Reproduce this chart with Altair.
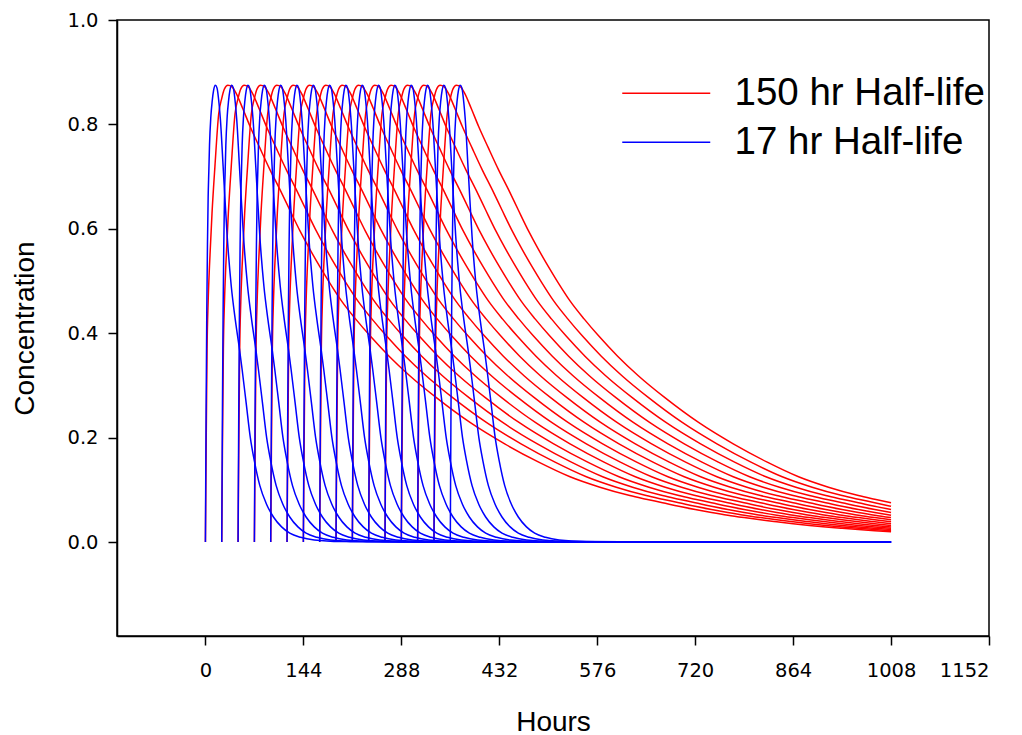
import altair as alt
import pandas as pd

# Dosing times (hours)
blue_dose_times = [0, 24, 48, 72, 96, 120, 144, 168, 192, 216, 240, 264, 288, 312, 336, 360]
red_dose_times = [0, 24, 48, 72, 96, 120, 144, 168, 192, 216, 240, 264, 288, 312, 336]

# Single-dose profile, 17 hr half-life (hours after dose, concentration)
blue_t = [0, 0.5, 1, 2, 3, 4, 5, 6, 8, 10, 12, 14.6, 17, 20, 22, 26, 32, 38, 44, 50, 54, 60, 66,
          72, 80, 90, 100, 112, 124, 140, 160, 200, 300, 400, 500, 600]
blue_c = [0, 0.13, 0.25, 0.44, 0.57, 0.66, 0.71, 0.76, 0.815, 0.845, 0.865, 0.875, 0.87, 0.84,
          0.81, 0.72, 0.585, 0.49, 0.425, 0.37, 0.33, 0.265, 0.20, 0.155, 0.108, 0.072, 0.048,
          0.029, 0.017, 0.009, 0.004, 0.001, 0, 0, 0, 0]
blue_tail_t = [648, 672, 696, 720, 744, 768, 792, 816, 840, 864, 888, 912, 936, 960, 984, 1008]
blue_tail_c = [0, 0, 0, 0, 0, 0, 0, 0, 0, 0, 0, 0, 0, 0, 0, 0]

# Single-dose profile, 150 hr half-life
red_t = [0, 0.5, 1, 2.4, 4, 6, 9.7, 14, 19.5, 24, 28, 33, 39, 45, 55, 65.7, 80, 95, 110, 124,
         139, 153, 168, 182, 200, 221, 242, 270, 300, 340, 389, 440, 490, 536, 580, 624, 648]
red_c = [0, 0.09, 0.17, 0.37, 0.46, 0.53, 0.63, 0.72, 0.82, 0.85, 0.868, 0.875, 0.872, 0.86,
         0.83, 0.796, 0.755, 0.713, 0.674, 0.636, 0.596, 0.562, 0.528, 0.498, 0.462, 0.427,
         0.395, 0.356, 0.319, 0.276, 0.229, 0.188, 0.153, 0.125, 0.105, 0.089, 0.082]
red_tail_t = [672, 696, 720, 744, 768, 792, 816, 840, 864, 888, 912, 936, 960, 984, 1008]
red_tail_c = [0.0753, 0.0684, 0.0622, 0.0566, 0.0514, 0.0468, 0.0425, 0.0387, 0.0351, 0.0319,
              0.0290, 0.0264, 0.0240, 0.0218, 0.0198]

series_names = ["150 hr Half-life", "17 hr Half-life"]
series_colors = ["#ff0000", "#0000ff"]
x_ticks = [0, 144, 288, 432, 576, 720, 864, 1008, 1152]
y_ticks = [0.0, 0.2, 0.4, 0.6, 0.8, 1.0]
end_time = 1008


def build(name, doses, st, sc):
    rows = []
    for k, d in enumerate(doses):
        for t, c in zip(st, sc):
            if d + t <= end_time:
                rows.append({"Hours": d + t, "Concentration": c, "series": name, "dose": k})
    return pd.DataFrame(rows)


red_df = build(series_names[0], red_dose_times, red_t + red_tail_t, red_c + red_tail_c)
blue_df = build(series_names[1], blue_dose_times, blue_t + blue_tail_t, blue_c + blue_tail_c)

x_enc = alt.X("Hours:Q", scale=alt.Scale(domain=[-130, 1152], nice=False, zero=False),
              axis=alt.Axis(values=x_ticks, format="d", title="Hours", titleY=86,
                            titleBaseline="middle", labelPadding=16))
y_enc = alt.Y("Concentration:Q", scale=alt.Scale(domain=[-0.18, 1.0], nice=False, zero=False),
              axis=alt.Axis(values=y_ticks, format=".1f", title="Concentration",
                            titleX=-92, titleBaseline="middle", labelPadding=10))
color_enc = alt.Color("series:N",
                      scale=alt.Scale(domain=series_names, range=series_colors),
                      legend=alt.Legend(title=None, orient="none", legendX=530, legendY=54,
                                        symbolType="M-4,0H4", symbolSize=484,
                                        symbolStrokeWidth=1.5, labelFontSize=38.5,
                                        labelFont="Liberation Sans", labelOffset=49,
                                        labelLimit=0, labelColor="black", rowPadding=10,
                                        padding=0))

red_layer = alt.Chart(red_df).mark_line(strokeWidth=1.5, interpolate="monotone").encode(
    x=x_enc, y=y_enc, color=color_enc, detail="dose:N")
blue_layer = alt.Chart(blue_df).mark_line(strokeWidth=1.5, interpolate="monotone").encode(
    x=x_enc, y=y_enc, color=color_enc, detail="dose:N")

chart = alt.layer(red_layer, blue_layer).properties(
    width=872, height=616,
    autosize=alt.AutoSizeParams(type="none"),
    padding={"left": 117, "top": 20, "right": 33, "bottom": 99},
    background="white",
).configure_view(
    stroke="black", strokeWidth=1.5
).configure_axis(
    grid=False, domainColor="black", domainWidth=1.5, tickColor="black", tickWidth=1.5,
    tickSize=9, labelFont="DejaVu Sans", labelFontSize=19.5, labelColor="black",
    titleFont="Liberation Sans", titleFontSize=28, titleFontWeight="normal",
    titleColor="black"
)

chart.save("out.html", embed_options={"renderer": "svg", "actions": False})
